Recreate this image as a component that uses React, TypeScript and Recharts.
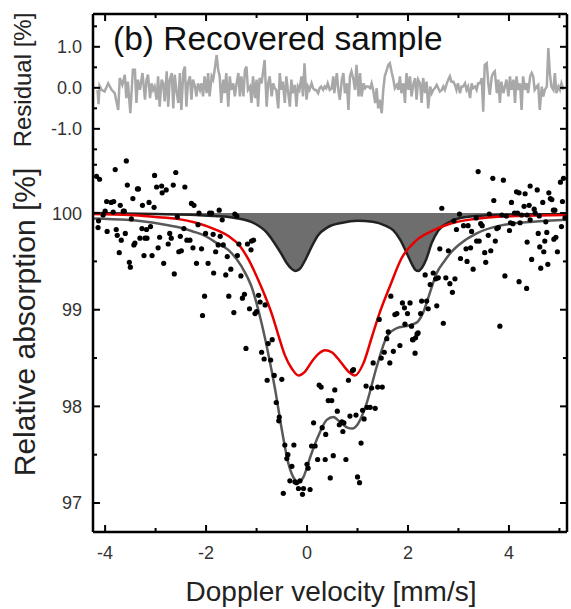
import React from 'react';
import { ComposedChart, Line, Area, Scatter, XAxis, YAxis } from 'recharts';

// Mossbauer spectrum, recovered sample: data points, fitted curves, residual

const W = 571;
const H = 609;
const PLOT = { left: 93, right: 567, top: 14, bottom: 532 };
const FONT = "'Liberation Sans', Arial, sans-serif";

const xTicks = [-4, -3, -2, -1, 0, 1, 2, 3, 4, 5];
const absTicks = [97, 97.5, 98, 98.5, 99, 99.5, 100, 100.5];
const resTicks = [-1.5, -1, -0.5, 0, 0.5, 1, 1.5];
const resLabels: Record<string, string> = { '-1': '-1.0', '0': '0.0', '1': '1.0' };

// measured points [velocity mm/s, relative absorption %]
const measured: number[][] = [
  [-4.17, 100.38], [-4.11, 100.35], [-4.13, 99.92], [-4.14, 99.85], [-4.04, 99.98], [-4.0, 100.02],
  [-3.97, 100.12], [-3.96, 99.81], [-3.88, 100.11], [-3.84, 100.01], [-3.83, 100.12], [-3.8, 100.45],
  [-3.78, 99.83], [-3.76, 99.77], [-3.72, 99.59], [-3.7, 100.08], [-3.68, 99.72], [-3.64, 100.02],
  [-3.62, 100.02], [-3.6, 99.79], [-3.58, 100.54], [-3.56, 100.29], [-3.52, 99.49], [-3.5, 99.44],
  [-3.48, 99.94], [-3.45, 100.15], [-3.43, 99.67], [-3.41, 99.69], [-3.36, 100.25], [-3.34, 100.25],
  [-3.31, 99.74], [-3.27, 99.84], [-3.26, 100.08], [-3.23, 99.56], [-3.21, 99.74], [-3.18, 99.83],
  [-3.17, 99.74], [-3.13, 100.11], [-3.1, 99.86], [-3.07, 99.56], [-3.03, 100.06], [-3.02, 100.39],
  [-2.98, 100.27], [-2.95, 99.64], [-2.92, 99.75], [-2.88, 100.28], [-2.87, 100.21], [-2.84, 99.48],
  [-2.79, 100.24], [-2.75, 99.68], [-2.72, 99.79], [-2.69, 99.74], [-2.65, 100.29], [-2.63, 99.37],
  [-2.6, 100.42], [-2.57, 99.96], [-2.54, 99.6], [-2.51, 99.76], [-2.49, 99.61], [-2.44, 99.84],
  [-2.42, 100.27], [-2.38, 99.72], [-2.32, 99.72], [-2.29, 100.1], [-2.26, 99.64], [-2.24, 100.08],
  [-2.19, 99.48], [-2.16, 99.88], [-2.14, 100.0], [-2.09, 99.63], [-2.07, 98.94], [-2.03, 99.14],
  [-2.01, 99.79], [-1.96, 99.48], [-1.93, 100.0], [-1.89, 100.0], [-1.86, 99.78], [-1.85, 99.38],
  [-1.81, 99.6], [-1.76, 99.67], [-1.74, 100.03], [-1.72, 99.76], [-1.68, 99.93], [-1.66, 99.67],
  [-1.61, 99.36], [-1.58, 99.55], [-1.55, 99.14], [-1.51, 99.42], [-1.45, 98.97], [-1.43, 99.99],
  [-1.39, 99.97], [-1.38, 99.56], [-1.35, 99.68], [-1.31, 99.35], [-1.28, 99.12], [-1.24, 99.16],
  [-1.21, 98.6], [-1.18, 99.68], [-1.14, 99.01], [-1.11, 99.62], [-1.1, 99.71], [-1.06, 99.72],
  [-1.03, 98.96], [-1.0, 98.98], [-0.96, 99.15], [-0.93, 99.08], [-0.9, 98.56], [-0.85, 98.49],
  [-0.83, 99.05], [-0.79, 98.27], [-0.77, 98.65], [-0.72, 98.48], [-0.69, 98.69], [-0.65, 98.32],
  [-0.61, 98.04], [-0.56, 97.85], [-0.55, 97.89], [-0.5, 98.28], [-0.47, 97.1], [-0.44, 97.6],
  [-0.4, 97.46], [-0.38, 97.5], [-0.34, 97.23], [-0.3, 97.38], [-0.26, 97.6], [-0.24, 97.22],
  [-0.21, 97.21], [-0.17, 97.15], [-0.14, 97.23], [-0.09, 97.09], [-0.07, 97.15], [0.0, 97.4],
  [0.02, 97.36], [0.06, 97.14], [0.09, 97.59], [0.13, 97.83], [0.16, 97.59], [0.21, 97.45],
  [0.24, 98.22], [0.28, 98.2], [0.3, 97.78], [0.36, 97.45], [0.37, 97.71], [0.42, 98.06],
  [0.46, 97.26], [0.49, 98.06], [0.52, 97.49], [0.55, 98.17], [0.6, 97.95], [0.64, 97.81],
  [0.69, 97.84], [0.71, 97.74], [0.73, 97.83], [0.77, 97.45], [0.82, 98.27], [0.85, 97.9],
  [0.9, 98.37], [0.92, 98.38], [0.97, 97.91], [1.0, 97.27], [1.04, 97.21], [1.07, 97.62],
  [1.1, 97.96], [1.13, 97.87], [1.17, 98.21], [1.19, 97.99], [1.25, 97.99], [1.28, 98.19],
  [1.31, 98.45], [1.35, 97.98], [1.4, 98.2], [1.43, 98.9], [1.47, 98.5], [1.49, 98.2],
  [1.53, 98.56], [1.58, 98.7], [1.61, 98.77], [1.64, 98.45], [1.66, 99.14], [1.71, 98.57],
  [1.74, 98.95], [1.78, 98.96], [1.84, 98.63], [1.89, 99.07], [1.93, 99.02], [1.94, 98.85],
  [1.99, 98.96], [2.04, 99.07], [2.07, 98.83], [2.09, 98.69], [2.1, 98.69], [2.14, 98.55],
  [2.15, 98.71], [2.18, 98.75], [2.2, 98.76], [2.25, 98.96], [2.27, 99.09], [2.34, 99.36],
  [2.37, 99.09], [2.4, 99.01], [2.44, 99.26], [2.5, 99.38], [2.55, 99.32], [2.57, 99.04],
  [2.6, 99.33], [2.63, 99.63], [2.67, 100.05], [2.7, 98.86], [2.75, 99.33], [2.8, 99.61],
  [2.83, 99.27], [2.88, 99.18], [2.91, 99.92], [2.93, 99.32], [2.96, 99.83], [3.02, 99.99],
  [3.04, 99.53], [3.1, 99.87], [3.15, 99.63], [3.17, 99.5], [3.19, 99.87], [3.24, 99.64],
  [3.26, 99.81], [3.29, 99.42], [3.35, 99.95], [3.36, 99.71], [3.39, 100.43], [3.41, 99.71],
  [3.44, 99.89], [3.47, 99.87], [3.52, 99.59], [3.54, 99.49], [3.59, 99.77], [3.61, 99.99],
  [3.64, 99.61], [3.68, 100.36], [3.7, 100.13], [3.73, 99.71], [3.76, 99.84], [3.79, 99.85],
  [3.82, 98.83], [3.86, 99.98], [3.89, 100.34], [3.92, 99.35], [3.95, 99.97], [4.01, 99.82],
  [4.03, 99.9], [4.05, 100.11], [4.08, 99.89], [4.11, 100.0], [4.15, 100.22], [4.17, 100.0],
  [4.2, 100.21], [4.2, 99.29], [4.22, 99.9], [4.25, 99.98], [4.3, 100.07], [4.32, 100.2],
  [4.35, 99.22], [4.36, 99.98], [4.36, 99.7], [4.4, 100.08], [4.42, 100.28], [4.42, 99.93],
  [4.45, 99.52], [4.5, 100.04], [4.52, 100.0], [4.56, 100.24], [4.58, 99.79], [4.6, 99.97],
  [4.61, 99.65], [4.63, 99.43], [4.67, 100.11], [4.69, 99.6], [4.71, 99.71], [4.73, 99.91],
  [4.75, 99.8], [4.77, 99.47], [4.79, 100.21], [4.82, 100.15], [4.85, 100.14], [4.88, 100.03],
  [4.89, 99.73], [4.91, 100.03], [4.93, 99.75], [4.96, 99.6], [5.02, 100.32], [5.04, 99.86],
  [5.06, 100.12], [5.08, 100.36], [5.11, 99.95],
];

// total fit (grey line)
const totalFit: number[][] = [
  [-4.24, 99.945], [-3.58, 99.93], [-2.92, 99.89], [-2.52, 99.85], [-2.26, 99.81], [-2.0, 99.76],
  [-1.82, 99.7], [-1.56, 99.62], [-1.3, 99.45], [-1.1, 99.24], [-0.9, 98.86], [-0.77, 98.55],
  [-0.63, 98.17], [-0.5, 97.76], [-0.37, 97.41], [-0.24, 97.24], [-0.17, 97.21], [-0.07, 97.27],
  [0.06, 97.47], [0.22, 97.69], [0.39, 97.86], [0.52, 97.89], [0.65, 97.84], [0.8, 97.78],
  [0.9, 97.77], [1.01, 97.82], [1.18, 98.03], [1.38, 98.41], [1.58, 98.72], [1.78, 98.81],
  [1.97, 98.83], [2.1, 98.85], [2.2, 98.88], [2.3, 98.97], [2.43, 99.17], [2.57, 99.38],
  [2.73, 99.51], [2.83, 99.58], [3.03, 99.68], [3.36, 99.79], [3.82, 99.87], [4.48, 99.91],
  [5.15, 99.93],
];

// quadrupole doublet 1 (red line)
const doubletRed: number[][] = [
  [-4.24, 99.99], [-3.5, 99.98], [-3.0, 99.96], [-2.57, 99.94], [-2.2, 99.9], [-1.86, 99.84],
  [-1.55, 99.76], [-1.33, 99.66], [-1.16, 99.52], [-0.96, 99.3], [-0.83, 99.14], [-0.7, 98.96],
  [-0.57, 98.74], [-0.44, 98.53], [-0.3, 98.39], [-0.17, 98.32], [-0.04, 98.36], [0.09, 98.46],
  [0.22, 98.54], [0.36, 98.58], [0.49, 98.56], [0.65, 98.47], [0.82, 98.36], [0.95, 98.32],
  [1.12, 98.45], [1.28, 98.71], [1.44, 98.97], [1.64, 99.24], [1.87, 99.53], [2.17, 99.72],
  [2.5, 99.82], [2.83, 99.89], [3.49, 99.95], [4.15, 99.97], [5.15, 99.98],
];

// quadrupole doublet 2 (filled)
const doubletFilled: number[][] = [
  [-4.24, 100.0], [-3.0, 99.99], [-2.2, 99.98], [-1.82, 99.97], [-1.43, 99.95], [-1.03, 99.89],
  [-0.8, 99.8], [-0.62, 99.67], [-0.5, 99.57], [-0.4, 99.48], [-0.3, 99.42], [-0.22, 99.4],
  [-0.13, 99.43], [-0.03, 99.52], [0.08, 99.64], [0.22, 99.77], [0.4, 99.85], [0.7, 99.9],
  [1.0, 99.92], [1.3, 99.91], [1.55, 99.87], [1.71, 99.82], [1.85, 99.72], [1.98, 99.58],
  [2.08, 99.47], [2.15, 99.41], [2.2, 99.4], [2.27, 99.43], [2.36, 99.52], [2.47, 99.69],
  [2.6, 99.82], [2.83, 99.91], [3.16, 99.96], [3.82, 99.98], [5.15, 99.99],
];

// residual [%]
const residual: number[][] = [
  [-4.15, -0.05], [-4.13, -0.4], [-4.11, 0.05], [-4.07, -0.05], [-4.01, -0.09], [-3.94, 0.11],
  [-3.87, -0.05], [-3.81, -0.13], [-3.74, -0.54], [-3.71, 0.24], [-3.66, 0.07], [-3.61, 0.32],
  [-3.58, -0.25], [-3.55, 0.15], [-3.5, -0.62], [-3.45, 0.44], [-3.41, 0.44], [-3.38, -0.37],
  [-3.35, 0.2], [-3.31, -0.05], [-3.26, 0.36], [-3.21, -0.29], [-3.18, 0.2], [-3.15, 0.32],
  [-3.11, -0.25], [-3.08, 0.11], [-3.05, -0.05], [-3.02, 0.03], [-2.98, -0.29], [-2.95, 0.28],
  [-2.92, -0.46], [-2.88, 0.2], [-2.85, 0.11], [-2.82, -0.33], [-2.78, 0.4], [-2.75, -0.46],
  [-2.72, 0.2], [-2.68, 0.36], [-2.65, -0.5], [-2.62, 0.32], [-2.59, -0.05], [-2.55, -0.37],
  [-2.52, 0.36], [-2.49, -0.54], [-2.45, 0.4], [-2.42, 0.52], [-2.39, -0.46], [-2.36, 0.11],
  [-2.32, 0.28], [-2.29, -0.29], [-2.26, 0.2], [-2.22, 0.03], [-2.19, -0.21], [-2.16, 0.11],
  [-2.12, -0.05], [-2.09, 0.11], [-2.06, -0.21], [-2.03, 0.28], [-1.99, -0.13], [-1.96, 0.36],
  [-1.93, -0.21], [-1.89, 0.28], [-1.86, 0.2], [-1.83, 0.44], [-1.79, 0.8], [-1.76, 0.44],
  [-1.73, 0.28], [-1.7, -0.37], [-1.66, 0.2], [-1.63, -0.13], [-1.6, 0.36], [-1.56, -0.46],
  [-1.53, 0.28], [-1.5, -0.05], [-1.46, 0.11], [-1.43, -0.21], [-1.4, 0.07], [-1.36, 0.36],
  [-1.33, -0.21], [-1.3, 0.28], [-1.26, -0.21], [-1.23, 0.44], [-1.2, 0.52], [-1.17, -0.05],
  [-1.13, 0.03], [-1.1, -0.37], [-1.07, 0.28], [-1.03, -0.25], [-1.0, 0.2], [-0.97, -0.46],
  [-0.94, 0.24], [-0.9, 0.11], [-0.87, 0.4], [-0.84, 0.68], [-0.8, -0.46], [-0.77, 0.11],
  [-0.74, 0.28], [-0.7, -0.21], [-0.67, 0.11], [-0.64, -0.01], [-0.61, -0.05], [-0.57, -0.5],
  [-0.54, 0.36], [-0.51, -0.05], [-0.48, 0.15], [-0.44, -0.37], [-0.41, 0.28], [-0.38, -0.05],
  [-0.34, -0.46], [-0.31, 0.2], [-0.28, -0.13], [-0.24, 0.07], [-0.21, -0.46], [-0.18, 0.03],
  [-0.15, -0.05], [-0.11, 0.28], [-0.08, -0.21], [-0.05, 0.6], [-0.01, -0.29], [0.02, 0.03],
  [0.05, -0.05], [0.09, 0.11], [0.12, -0.01], [0.15, -0.05], [0.18, -0.05], [0.22, -0.13],
  [0.25, -0.01], [0.28, 0.03], [0.32, -0.05], [0.35, 0.03], [0.38, -0.01], [0.41, 0.11],
  [0.45, -0.05], [0.49, -0.01], [0.52, 0.28], [0.54, -0.13], [0.59, 0.36], [0.62, -0.05],
  [0.65, -0.29], [0.69, 0.2], [0.72, 0.36], [0.75, -0.13], [0.79, 0.11], [0.82, -0.54],
  [0.85, 0.28], [0.88, 0.4], [0.92, 0.2], [0.95, -0.05], [0.98, 0.56], [1.02, -0.21],
  [1.05, 0.36], [1.08, -0.21], [1.12, 0.11], [1.15, -0.01], [1.18, 0.03], [1.21, 0.03],
  [1.25, -0.01], [1.28, 0.11], [1.31, -0.05], [1.35, -0.37], [1.38, -0.01], [1.41, -0.5],
  [1.44, -0.29], [1.48, -0.62], [1.51, -0.05], [1.54, 0.28], [1.58, 0.44], [1.61, 0.56],
  [1.64, 0.6], [1.68, 0.36], [1.71, 0.2], [1.74, -0.01], [1.78, 0.07], [1.81, -0.05],
  [1.84, 0.28], [1.87, -0.13], [1.91, 0.11], [1.94, -0.37], [1.97, 0.36], [2.01, -0.05],
  [2.04, 0.28], [2.07, -0.21], [2.11, 0.11], [2.14, 0.24], [2.17, -0.29], [2.2, 0.2],
  [2.24, 0.11], [2.27, -0.37], [2.3, 0.24], [2.34, -0.13], [2.37, 0.15], [2.4, -0.5],
  [2.44, 0.03], [2.47, -0.13], [2.5, -0.05], [2.53, -0.01], [2.57, 0.07], [2.6, -0.01],
  [2.63, -0.09], [2.67, -0.05], [2.7, 0.03], [2.73, -0.05], [2.77, 0.11], [2.8, 0.2],
  [2.83, 0.28], [2.86, 0.15], [2.9, 0.15], [2.93, 0.07], [2.96, -0.05], [2.99, 0.11],
  [3.03, -0.13], [3.06, 0.03], [3.09, 0.03], [3.13, 0.11], [3.16, -0.05], [3.19, 0.03],
  [3.23, -0.25], [3.26, 0.11], [3.29, -0.01], [3.33, 0.03], [3.36, -0.05], [3.39, 0.11],
  [3.43, 0.11], [3.46, 0.24], [3.49, -0.58], [3.52, 0.56], [3.56, 0.6], [3.59, 0.11],
  [3.62, -0.17], [3.66, 0.28], [3.69, 0.36], [3.72, 0.4], [3.76, -0.13], [3.79, 0.2],
  [3.82, -0.37], [3.85, 0.15], [3.89, -0.13], [3.92, 0.03], [3.95, 0.2], [3.99, -0.21],
  [4.02, 0.28], [4.05, -0.05], [4.09, 0.2], [4.12, -0.37], [4.15, 0.28], [4.18, -0.05],
  [4.22, 0.11], [4.25, -0.54], [4.28, 0.28], [4.32, -0.05], [4.35, 0.11], [4.38, -0.13],
  [4.42, 0.28], [4.45, 0.36], [4.48, 0.28], [4.51, -0.05], [4.55, 0.03], [4.58, 0.07],
  [4.61, -0.54], [4.65, 0.03], [4.68, -0.21], [4.71, -0.05], [4.75, 0.03], [4.78, 0.97],
  [4.81, 0.36], [4.84, 0.03], [4.88, -0.05], [4.91, 0.36], [4.94, -0.13], [4.98, 0.03],
  [5.01, -0.05], [5.04, 0.11], [5.08, -0.05],
];

const toXY = (arr: number[][]) => arr.map(([x, y]) => ({ x, y }));

const X_DOMAIN = [-4.24, 5.15];
const ABS_DOMAIN = [96.7, 102.06];
const RES_DOMAIN = [-10.83, 1.8];

const MARGIN = { top: 4, right: 0, bottom: 47, left: 33 };

const XTickBottom = ({ x, payload }: any) => {
  const major = payload.value % 2 === 0;
  return (
    <g>
      <line x1={x} x2={x} y1={PLOT.bottom} y2={PLOT.bottom - (major ? 7 : 4)} stroke="#000" strokeWidth={2} />
      {major && (
        <text x={x} y={559} textAnchor="middle" fontSize={18} fill="#333" fontFamily={FONT}>
          {payload.value}
        </text>
      )}
    </g>
  );
};

const XTickTop = ({ x, payload }: any) => {
  const major = payload.value % 2 === 0;
  return <line x1={x} x2={x} y1={PLOT.top} y2={PLOT.top + (major ? 7 : 4)} stroke="#000" strokeWidth={2} />;
};

const makeYTick = (side: 'left' | 'right', labelOf: (v: number) => string | null) => ({ y, payload }: any) => {
  const label = labelOf(payload.value);
  const len = label !== null ? 7 : 4;
  const x0 = side === 'left' ? PLOT.left : PLOT.right;
  const x1 = side === 'left' ? x0 + len : x0 - len;
  return (
    <g>
      <line x1={x0} x2={x1} y1={y} y2={y} stroke="#000" strokeWidth={2} />
      {side === 'left' && label !== null && (
        <text x={PLOT.left - 11} y={y} dy="0.36em" textAnchor="end" fontSize={18} fill="#333" fontFamily={FONT}>
          {label}
        </text>
      )}
    </g>
  );
};

const absLabel = (v: number) => (Number.isInteger(v) ? String(v) : null);
const resLabel = (v: number) => resLabels[String(v)] ?? null;

const axisLine = { stroke: '#000', strokeWidth: 2.5 };

const Dot = (p: any) => <circle cx={p.cx} cy={p.cy} r={2.6} fill="#000" />;

export default function App() {
  const layer: React.CSSProperties = { position: 'absolute', left: 0, top: 0 };
  return (
    <div style={{ position: 'absolute', left: 0, top: 0, width: W, height: H, background: '#fff' }}>
      <div style={layer}>
        <ComposedChart width={W} height={H} margin={MARGIN}>
          <XAxis xAxisId="b" dataKey="x" type="number" domain={X_DOMAIN} allowDataOverflow ticks={xTicks}
            interval={0} height={30} axisLine={axisLine} tickLine={false} tick={XTickBottom} />
          <XAxis xAxisId="t" orientation="top" dataKey="x" type="number" domain={X_DOMAIN} allowDataOverflow
            ticks={xTicks} interval={0} height={10} axisLine={axisLine} tickLine={false} tick={XTickTop} />
          <YAxis yAxisId="l" type="number" domain={ABS_DOMAIN} allowDataOverflow ticks={absTicks} interval={0}
            width={60} axisLine={axisLine} tickLine={false} tick={makeYTick('left', absLabel)} />
          <YAxis yAxisId="r" orientation="right" type="number" domain={ABS_DOMAIN} allowDataOverflow ticks={absTicks}
            interval={0} width={4} axisLine={axisLine} tickLine={false} tick={makeYTick('right', absLabel)} />
          <Area xAxisId="b" yAxisId="l" data={toXY(doubletFilled)} dataKey="y" type="monotone" baseValue={100}
            fill="#6e6e6e" fillOpacity={1} stroke="#222" strokeWidth={2.5} isAnimationActive={false} />
          <Line xAxisId="b" yAxisId="l" data={toXY(doubletRed)} dataKey="y" type="monotone" stroke="#e60000"
            strokeWidth={2.5} dot={false} activeDot={false} isAnimationActive={false} />
          <Line xAxisId="b" yAxisId="l" data={toXY(totalFit)} dataKey="y" type="monotone" stroke="#595959"
            strokeWidth={2.5} dot={false} activeDot={false} isAnimationActive={false} />
          <Scatter xAxisId="b" yAxisId="l" data={toXY(measured)} dataKey="y" shape={Dot} isAnimationActive={false} />
        </ComposedChart>
      </div>
      <div style={{ ...layer, pointerEvents: 'none' }}>
        <ComposedChart width={W} height={H} margin={MARGIN}>
          <XAxis xAxisId="b" dataKey="x" type="number" domain={X_DOMAIN} allowDataOverflow height={30}
            axisLine={false} tickLine={false} tick={false} />
          <XAxis xAxisId="t" orientation="top" dataKey="x" type="number" domain={X_DOMAIN} allowDataOverflow
            height={10} axisLine={false} tickLine={false} tick={false} />
          <YAxis yAxisId="l" type="number" domain={RES_DOMAIN} allowDataOverflow ticks={resTicks} interval={0}
            width={60} axisLine={false} tickLine={false} tick={makeYTick('left', resLabel)} />
          <YAxis yAxisId="r" orientation="right" type="number" domain={RES_DOMAIN} allowDataOverflow ticks={resTicks}
            interval={0} width={4} axisLine={false} tickLine={false} tick={makeYTick('right', resLabel)} />
          <Line xAxisId="b" yAxisId="l" data={toXY(residual)} dataKey="y" type="linear" stroke="#a8a8a8"
            strokeWidth={2.5} dot={false} activeDot={false} isAnimationActive={false} />
        </ComposedChart>
      </div>
      <svg style={{ ...layer, pointerEvents: 'none' }} width={W} height={H}>
        <text x={113} y={50} fontSize={33.5} fill="#111" fontFamily={FONT}>(b) Recovered sample</text>
        <text x={23} y={80} fontSize={24} fill="#222" fontFamily={FONT} textAnchor="middle" dy="0.35em"
          transform="rotate(-90 23 80)">Residual [%]</text>
        <text x={24} y={322} fontSize={30} fill="#222" fontFamily={FONT} textAnchor="middle" dy="0.35em"
          transform="rotate(-90 24 322)">Relative absorption [%]</text>
        <text x={331} y={601} fontSize={28} fill="#222" fontFamily={FONT} textAnchor="middle">Doppler velocity [mm/s]</text>
      </svg>
    </div>
  );
}
